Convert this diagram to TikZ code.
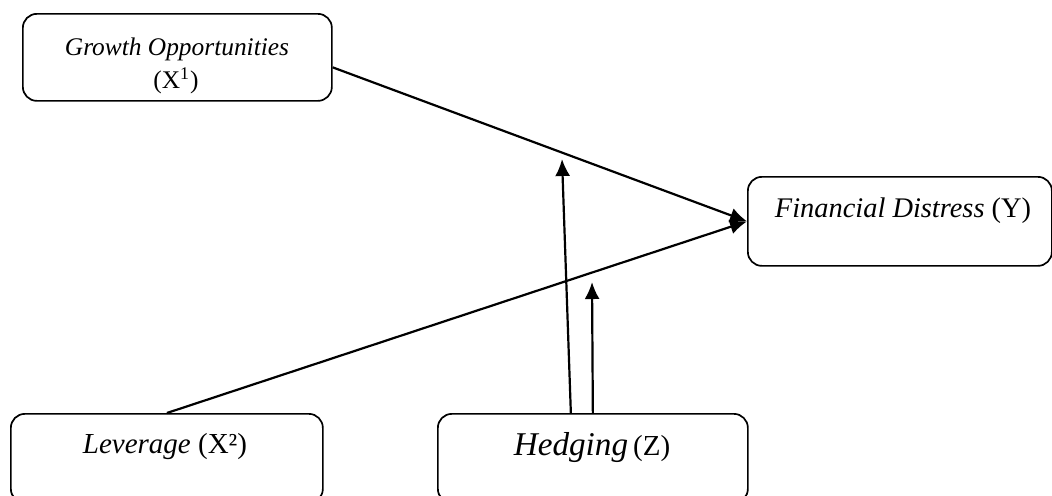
\documentclass[tikz,border=0pt]{standalone}
\usepackage{fontspec}
\setmainfont{Liberation Serif}
\usetikzlibrary{arrows.meta}
\begin{document}
\begin{tikzpicture}[x=0.5pt,y=-0.5pt,
  box/.style={draw, line width=0.85pt, rounded corners=7pt, inner sep=0pt, anchor=north west},
  conn/.style={line width=1.1pt, -{Latex[length=8.5pt,width=7.5pt]}},
  lbl/.style={anchor=base, inner sep=0pt}]
\useasboundingbox (0,0) rectangle (1052,495);
\clip (0,0) rectangle (1052,495);
% boxes
\node[box, minimum width=154.5pt, minimum height=43.5pt] (g) at (22,13) {};
\node[box, minimum width=152pt, minimum height=44.5pt] (fd) at (747,176) {};
\node[box, minimum width=156pt, minimum height=44.5pt] (lev) at (10,413) {};
\node[box, minimum width=155pt, minimum height=44.5pt] (h) at (437,413) {};
% texts
\node[lbl] (gt1) at (177,55) {\fontsize{12.7pt}{15pt}\selectfont\itshape Growth Opportunities};
\node[lbl] (gt2) at (176,88) {\fontsize{12.7pt}{15pt}\selectfont (X\textsuperscript{1})};
\node[lbl] (fdt) at (903,217) {\fontsize{14.2pt}{17pt}\selectfont\textit{Financial Distress} (Y)};
\node[lbl] (levt) at (165,453) {\fontsize{14.5pt}{17pt}\selectfont\textit{Leverage} (X²)};
\node[lbl] (ht) at (592,455) {{\fontsize{16.6pt}{19pt}\selectfont\itshape Hedging} \fontsize{14.5pt}{17pt}\selectfont(Z)};
% connectors
\coordinate (t1) at (562,159);
\coordinate (t2) at (592,282);
\draw[conn] ([yshift=-5pt]g.east) -- (fd.west);
\draw[conn] (lev.north) -- (fd.west);
\draw[conn] ([xshift=-11pt]h.north) -- (t1);
\draw[conn] (h.north) -- (t2);
\end{tikzpicture}
\end{document}
